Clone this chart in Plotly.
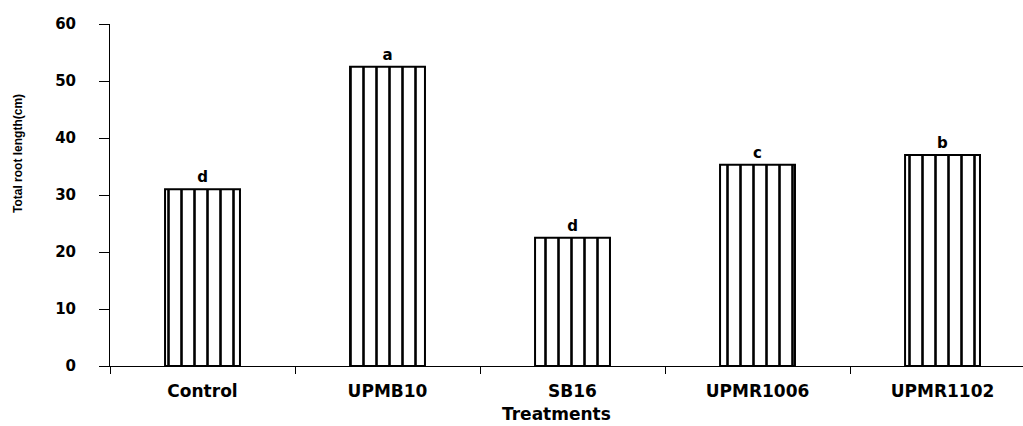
import plotly.graph_objects as go

categories = ["Control", "UPMB10", "SB16", "UPMR1006", "UPMR1102"]
values = [31.0, 52.5, 22.5, 35.3, 37.0]
letters = ["d", "a", "d", "c", "b"]
y_ticks = [0, 10, 20, 30, 40, 50, 60]

xpos = list(range(len(categories)))

fig = go.Figure()
fig.add_trace(go.Bar(
    x=xpos, y=values, width=0.405,
    marker=dict(
        color="white",
        line=dict(color="black", width=2),
        pattern=dict(shape="|", fgcolor="black", bgcolor="white", fgopacity=1,
                     size=13, solidity=0.2, fillmode="replace"),
    ),
    text=[f"<b>{t}</b>" for t in letters],
    textposition="outside",
    textfont=dict(family="DejaVu Sans", size=15, color="black"),
    cliponaxis=False,
    showlegend=False,
))

L, T, B, W, H = 110, 24, 60, 1023, 426

fig.update_layout(
    width=W, height=H, autosize=False,
    margin=dict(l=L, r=0, t=T, b=B, pad=0),
    plot_bgcolor="white", paper_bgcolor="white",
    xaxis=dict(
        range=[-0.5, 4.435],
        tickvals=xpos,
        ticktext=[f"<b>{c}</b>" for c in categories],
        tickfont=dict(family="DejaVu Sans", size=17, color="black"),
        ticks="",
        showline=True, linecolor="black", linewidth=1,
        showgrid=False, zeroline=False, automargin=False,
        ticklabelstandoff=10,
        minor=dict(tick0=-0.5, dtick=1, ticks="outside", ticklen=7, tickcolor="black", tickwidth=1),
    ),
    yaxis=dict(
        range=[0, 60],
        tickvals=y_ticks,
        ticktext=[f"<b>{v}</b>" for v in y_ticks],
        tickfont=dict(family="DejaVu Sans", size=15, color="black"),
        ticks="outside", ticklen=10, tickcolor="black", tickwidth=1,
        showline=True, linecolor="black", linewidth=1,
        showgrid=False, zeroline=False, automargin=False,
        ticklabelstandoff=20,
    ),
)

pw = W - L
ph = H - T - B

def px2paper(px, py):
    return (px - L) / pw, (H - B - py) / ph

ax, ay = px2paper(18, 154)
fig.add_annotation(text="<b>Total root length(cm)</b>", x=ax, y=ay, xref="paper", yref="paper",
                   xanchor="center", yanchor="middle", showarrow=False, textangle=-90,
                   font=dict(family="Liberation Sans", size=12, color="black"))
tx, ty = px2paper(556, 414)
fig.add_annotation(text="<b>Treatments</b>", x=tx, y=ty, xref="paper", yref="paper",
                   xanchor="center", yanchor="middle", showarrow=False,
                   font=dict(family="DejaVu Sans", size=17, color="black"))

fig.write_html("out.html", config={"displayModeBar": False},
               post_script="document.body.style.margin='0';document.body.style.overflow='hidden';")
